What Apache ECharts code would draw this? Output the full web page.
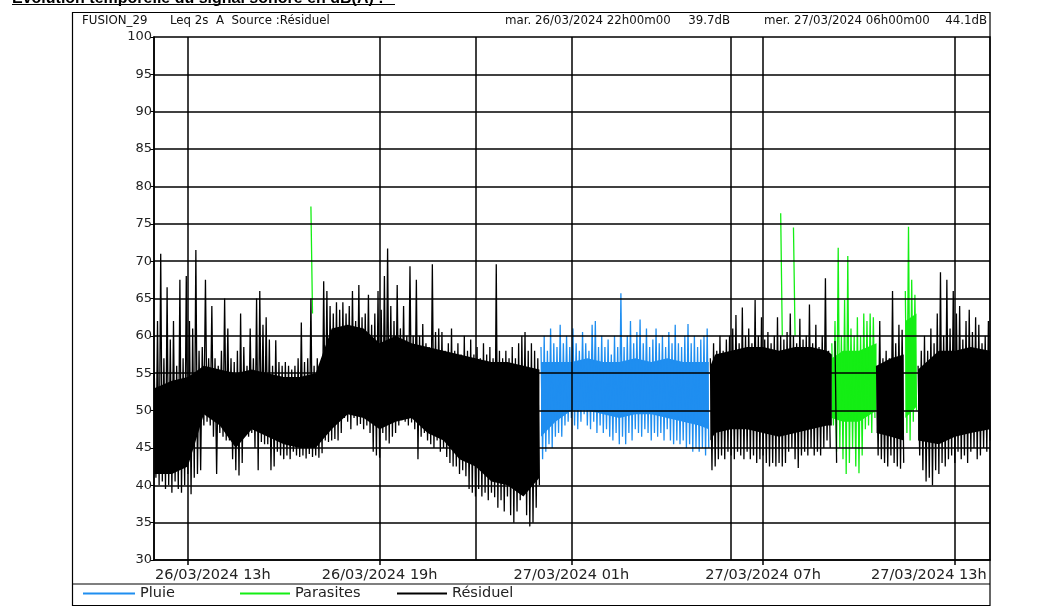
<!DOCTYPE html>
<html>
<head>
<meta charset="utf-8">
<script src="https://cdn.jsdelivr.net/npm/echarts@6/dist/echarts.min.js"></script>
<style>
html, body { margin: 0; padding: 0; background: #fff; }
#chart { width: 1038px; height: 610px; }
</style>
</head>
<body>
<div id="chart"></div>
<script>
// Leq 2s, dB(A). One bin every 6 minutes; x is hours counted from 26/03/2024 00h00.
// Each bin holds the peak (haut) and the trough (bas) of the signal inside it.
const debutHeures = 11.95;
const pasHeures = 0.1;

const axeMin = 11.94;
const axeMax = 38.1;

const ticksHeures = [13, 19, 25, 31, 37];
const ticksLabels = ['26/03/2024 13h', '26/03/2024 19h', '27/03/2024 01h', '27/03/2024 07h', '27/03/2024 13h'];
const reperesHeures = [13, 19, 22, 25, 30, 31, 37];   // vertical rules (ticks + 22h00 / 06h00 period markers)
const niveauxDb = [35, 40, 45, 50, 55, 60, 65, 70, 75, 80, 85, 90, 95];

// Résiduel: bins 0..261 (null where the bin belongs to Pluie or Parasites)
const residuelHaut = [
  55, 62, 71, 57, 66.5, 59.5, 62, 56, 67.5, 57,
  68, 62, 61, 71.5, 58, 58.5, 67.5, 57, 64, 57,
  56, 58, 65, 61, 57, 56.5, 58, 63, 58.5, 56,
  61, 57, 65, 66, 61.5, 62.5, 59.5, 56, 59.4, 56.5,
  56, 56.5, 56, 55.5, 56, 57, 61.8, 56.5, 57, 65,
  56, 57, 56, 67.3, 66, 64, 63, 64.5, 63.5, 64.5,
  63, 64, 66, 62, 66.8, 62.5, 63, 65.5, 61.5, 63,
  66, 63.5, 68, 71.7, 64, 62, 66.8, 61, 64, 60,
  69.3, 60, 67.5, 60, 61.6, 59, 58.5, 69.6, 60.5, 61,
  60.5, 58, 59, 61, 58, 59, 57.5, 60, 58, 59.5,
  57.5, 58.5, 57, 59, 57.5, 58.5, 57, 69.6, 58, 57,
  58, 57, 58.5, 57, 59, 60, 60.5, 58, 59, 58, 57,
  null, null, null, null, null, null, null, null, null, null,
  null, null, null, null, null, null, null, null, null, null,
  null, null, null, null, null, null, null, null, null, null,
  null, null, null, null, null, null, null, null, null, null,
  null, null, null, null, null, null, null, null, null, null,
  null, null, null,
  57, 59, 58, 60, 58, 59.5, 60, 61, 62.8, 59,
  63.8, 60, 61, 59, 64.8, 60, 62.5, 59.5, 60.5, 59,
  60, 62.5, 60, 59.5, 60.5, 63, 60, 59, 62.3, 59.5,
  60, 64.2, 59, 61.5, 58.5, 60, 67.7, 58,
  null, 59.3, null, null, null, null, null, null, null, null, null, null, null, null,
  56, 62, 57, 58, 57, 66, 59, 61.5, 60.8,
  null, null, null, null,
  56, 58, 60, 58, 61, 59, 63, 68.5, 60, 67.5,
  61, 66, 63, 64, 59.5, 62, 63.5, 60.5, 62.5, 61.5,
  59, 60, 62
];
const residuelBas = [
  41, 40, 40.5, 39.5, 40, 39, 40.5, 39.5, 39, 40,
  41.5, 38.8, 41, 41.5, 42, 48, 48.5, 48, 46.5, 41.5,
  47, 46.5, 46, 46, 43.5, 42, 41.3, 43, 47, 46.5,
  47, 45, 42, 45.8, 45.5, 45.5, 42, 42.5, 44.5, 44,
  43.5, 44, 43.5, 44.5, 44, 43.8, 44, 43.6, 44.2, 43.8,
  44, 43.7, 44.3, 46, 45.8, 46, 46.2, 46, 47, 49,
  48.5, 47.5, 49, 48, 48.2, 47.5, 48, 47, 44.5, 44,
  43.7, 47, 46, 45.6, 46.5, 47, 48, 48.7, 48.5, 48,
  48.4, 47.5, 43.5, 46.5, 47, 46, 45.5, 45, 46, 44.5,
  45, 43.8, 43, 42.5, 42.5, 41.5, 42, 41.2, 39.5, 39,
  38.5, 39.5, 38.5, 39, 38, 39, 38.4, 37, 38, 36.5,
  38.5, 36, 35, 36.5, 38, 44, 36, 34.5, 35, 37, 40,
  null, null, null, null, null, null, null, null, null, null,
  null, null, null, null, null, null, null, null, null, null,
  null, null, null, null, null, null, null, null, null, null,
  null, null, null, null, null, null, null, null, null, null,
  null, null, null, null, null, null, null, null, null, null,
  null, null, null,
  42, 42.5, 43.5, 44, 43.5, 44.5, 44, 43.5, 44.5, 44,
  43.5, 44.5, 43.5, 44, 43, 43.5, 44, 43, 42.5, 43,
  42.5, 43, 42.5, 43, 44.5, 45, 43.5, 42.3, 44, 44.5,
  44, 45, 44, 44.5, 44, 45, 46, 45,
  null, 43, null, null, null, null, null, null, null, null, null, null, null, null,
  44, 43.5, 43, 42.5, 44, 43, 42.5, 42.2, 43,
  null, null, null, null,
  44, 42, 40.5, 41, 40, 42, 41.5, 43, 42.5, 43.5,
  44, 43, 44.5, 43.5, 44, 43, 44.5, 45, 43.5, 44,
  45, 44.5, 46
];
// Résiduel: solid core of the signal (every 30 min, null between separate stretches)
const residuelCorpsHeures = [11.95, 12.5, 13, 13.5, 14, 14.5, 15, 15.5, 16, 16.5, 17, 17.5, 18, 18.5, 19, 19.5, 20, 20.5, 21, 21.5, 22, 22.5, 23, 23.5, 24,
  null, 29.35, 29.5, 30, 30.5, 31, 31.5, 32, 32.5, 33, 33.15,
  null, 34.55, 35, 35.4,
  null, 35.85, 36.5, 37, 37.5, 38.1];
const residuelCorpsBas = [41.5, 41.5, 42.5, 49.5, 48, 45, 47.5, 46.5, 45.5, 45, 45, 47.5, 49.5, 49, 47.5, 48.5, 49, 47, 46, 43.5, 42.5, 40.5, 40, 38.5, 41,
  null, 46, 47, 47.5, 47.5, 47, 46.5, 47, 47.5, 48, 48,
  null, 47, 46.5, 46,
  null, 46, 45.5, 46.5, 47, 47.5];
const residuelCorpsHaut = [53, 54, 54.5, 56, 55.5, 55, 55.5, 55, 54.5, 54.5, 55, 61, 61.5, 61, 59, 60, 59, 58.5, 58, 57.5, 57, 56.5, 56.5, 56, 55.5,
  null, 56, 57.5, 58, 58.5, 58.5, 58, 58.5, 58.5, 58, 57.5,
  null, 56, 57, 57.5,
  null, 55.5, 58, 58, 58.5, 58];

// Pluie: bins 121..173
const pluieDebut = 121;
const pluieHaut = [
  58.5, 60, 58, 61, 59, 58.5, 61.5, 59, 60, 58.5,
  61, 59, 58, 60.5, 59, 58, 61.5, 62, 58.5, 60,
  58.5, 59.5, 57.5, 60, 58.5, 65.7, 58.5, 60, 62, 59,
  60.5, 62.2, 59, 61, 58.5, 59.5, 61, 59, 60, 58.5,
  60.5, 59, 61.5, 59, 58.5, 60, 61.6, 59, 60, 58.5,
  59.5, 60, 61
];
const pluieBas = [
  43.5, 44.5, 45.5, 45, 46.5, 47, 46.5, 48, 48.5, 49,
  48, 47.5, 48.5, 49.5, 48, 47.5, 48.5, 47, 48, 47,
  47.5, 46.5, 46, 47, 45.5, 46.5, 45.5, 47, 46, 47.5,
  47, 46.5, 47.5, 47, 46, 47, 46.5, 47, 46, 47.5,
  46, 45.5, 46, 45.5, 46, 45, 45.5, 44.5, 45, 44.5,
  45, 44, 45
];
const pluieCorpsHeures = [24.05, 24.5, 25, 25.5, 26, 26.5, 27, 27.5, 28, 28.5, 29, 29.3];
const pluieCorpsBas = [46.5, 48.5, 50, 50, 49.5, 49, 49.5, 49.5, 49, 48.5, 48, 47.5];
const pluieCorpsHaut = [56.5, 56.5, 56.5, 57, 56.5, 56.5, 57, 56.5, 57, 56.5, 56.5, 56.5];

// Parasites: separate bursts, each with its first bin
const parasitesDebuts = [49, 196, 200, 212, 235];
const parasitesHaut = [
  [77.3],
  [76.4],
  [74.5],
  [59, 62, 71.8, 60, 64.8, 70.7, 61, 60, 62.5, 60, 63, 62, 63, 62.5],
  [66, 74.6, 67.5, 65.5]
];
const parasitesBas = [
  [63],
  [60],
  [60],
  [48, 44.5, 45, 43.5, 41.5, 43, 45, 42.5, 41.6, 44, 47.5, 48, 47, 49],
  [47, 46, 48.5, 50]
];
const parasitesCorpsHeures = [33.15, 33.5, 34, 34.55, null, 35.45, 35.8];
const parasitesCorpsBas = [49, 48.5, 48.5, 50, null, 49, 50.5];
const parasitesCorpsHaut = [57, 58, 58, 59, null, 62, 63];

// peak then trough for every bin, so the line sweeps the full range of each bin
function enDents(haut, bas, debut) {
  const pts = [];
  for (let k = 0; k < haut.length; k++) {
    const t = debutHeures + (debut + k) * pasHeures;
    if (haut[k] == null) { pts.push([t, null]); continue; }
    pts.push([t, haut[k]]);
    pts.push([t + pasHeures / 2, bas[k]]);
  }
  return pts;
}

const residuelData = enDents(residuelHaut, residuelBas, 0);
const pluieData = enDents(pluieHaut, pluieBas, pluieDebut);
let parasitesData = [];
parasitesDebuts.forEach((d, j) => {
  if (j > 0) parasitesData.push([debutHeures + (d - 0.5) * pasHeures, null]);
  parasitesData = parasitesData.concat(enDents(parasitesHaut[j], parasitesBas[j], d));
});

// split a core outline at its nulls
function troncons(heures) {
  const out = []; let cur = [];
  heures.forEach((h, k) => {
    if (h == null) { if (cur.length) out.push(cur); cur = []; } else cur.push(k);
  });
  if (cur.length) out.push(cur);
  return out;
}

// filled core between the lower and upper outlines
function serieCorps(nom, heures, bas, haut, couleur, z) {
  const segs = troncons(heures);
  return {
    name: nom, type: 'custom', coordinateSystem: 'cartesian2d', z: z, silent: true, clip: true,
    data: segs.map(s => [heures[s[0]], bas[s[0]]]),
    renderItem: function (params, api) {
      const s = segs[params.dataIndex];
      const pts = s.map(k => api.coord([heures[k], haut[k]]))
        .concat(s.slice().reverse().map(k => api.coord([heures[k], bas[k]])));
      return { type: 'polygon', shape: { points: pts }, style: { fill: couleur, stroke: null } };
    }
  };
}

const BLEU = '#1f8ef0', VERT = '#14ee14', NOIR = '#000';
const POLICE = 'DejaVu Sans';
const chart = echarts.init(document.getElementById('chart'), null, { renderer: 'canvas' });

const rules = reperesHeures.map(h => ({ xAxis: h })).concat(niveauxDb.map(v => ({ yAxis: v })));

function texte(x, y, s, align) {
  return { type: 'text', silent: true, style: { x: x, y: y, text: s, font: '11.8px "DejaVu Sans"', fill: '#111',
    textAlign: align || 'left', align: align || 'left', textVerticalAlign: 'middle', verticalAlign: 'middle' } };
}

chart.setOption({
  animation: false,
  backgroundColor: '#fff',
  grid: {
    left: 154, right: 48, top: 37, bottom: 50,
    show: true, borderColor: '#000', borderWidth: 1.5, backgroundColor: 'transparent'
  },
  xAxis: {
    type: 'value',
    min: axeMin, max: axeMax,
    axisLine: { show: true, lineStyle: { color: '#000', width: 1.5 } },
    axisTick: { show: true, customValues: ticksHeures, length: 5, lineStyle: { color: '#000', width: 1.5 } },
    splitLine: { show: false },
    axisLabel: {
      show: true,
      customValues: ticksHeures,
      margin: 8,
      color: '#222',
      fontFamily: POLICE,
      fontSize: 14.5,
      formatter: function (v) {
        const k = ticksHeures.indexOf(Math.round(v));
        const s = k >= 0 ? ticksLabels[k] : '';
        if (k === 0) return '{d|' + s + '}';
        if (k === ticksHeures.length - 1) return '{g|' + s + '}';
        return s;
      },
      rich: {
        d: { padding: [0, 0, 0, 50], fontFamily: POLICE, fontSize: 14.5, color: '#222' },
        g: { padding: [0, 52, 0, 0], fontFamily: POLICE, fontSize: 14.5, color: '#222' }
      }
    }
  },
  yAxis: {
    type: 'value',
    min: 30, max: 100, interval: 5,
    axisLine: { show: true, lineStyle: { color: '#000', width: 1.5 } },
    axisTick: { show: true, length: 4, lineStyle: { color: '#000', width: 1 } },
    splitLine: { show: false },
    axisLabel: { margin: 2, color: '#222', fontFamily: POLICE, fontSize: 13 }
  },
  legend: [
    { data: ['Pluie'], left: 83, top: 586, padding: 0, icon: 'rect', itemWidth: 52, itemHeight: 2,
      textStyle: { fontFamily: POLICE, fontSize: 14.5, color: '#222' } },
    { data: ['Parasites'], left: 240, top: 586, padding: 0, icon: 'rect', itemWidth: 50, itemHeight: 2,
      textStyle: { fontFamily: POLICE, fontSize: 14.5, color: '#222' } },
    { data: ['Résiduel'], left: 397, top: 586, padding: 0, icon: 'rect', itemWidth: 50, itemHeight: 2,
      textStyle: { fontFamily: POLICE, fontSize: 14.5, color: '#222' } }
  ],
  series: [
    {
      name: 'Pluie', type: 'line', data: pluieData, color: BLEU,
      showSymbol: false, symbol: 'none', lineStyle: { width: 1.3, color: BLEU }, z: 2
    },
    {
      name: 'Parasites', type: 'line', data: parasitesData, color: VERT,
      showSymbol: false, symbol: 'none', lineStyle: { width: 1.3, color: VERT }, z: 2
    },
    {
      name: 'Résiduel', type: 'line', data: residuelData, color: NOIR,
      showSymbol: false, symbol: 'none', lineStyle: { width: 1.3, color: NOIR }, z: 3,
      markLine: {
        silent: true, symbol: ['none', 'none'], label: { show: false },
        lineStyle: { color: '#000', width: 1.5, type: 'solid' },
        emphasis: { disabled: true },
        data: rules
      }
    },
    serieCorps('Pluie', pluieCorpsHeures, pluieCorpsBas, pluieCorpsHaut, BLEU, 2),
    serieCorps('Parasites', parasitesCorpsHeures, parasitesCorpsBas, parasitesCorpsHaut, VERT, 2),
    serieCorps('Résiduel', residuelCorpsHeures, residuelCorpsBas, residuelCorpsHaut, NOIR, 3)
  ],
  graphic: [
    { type: 'rect', silent: true, shape: { x: 72.5, y: 12.5, width: 917.5, height: 593 },
      style: { fill: 'none', stroke: '#000', lineWidth: 1.2 } },
    { type: 'line', silent: true, shape: { x1: 72, y1: 584, x2: 990, y2: 584 },
      style: { stroke: '#000', lineWidth: 1.2 } },
    { type: 'text', silent: true, style: { x: 12, y: 7, text: 'Evolution temporelle du signal sonore en dB(A) :',
      font: 'bold 16px "Liberation Sans"', fill: '#000', textAlign: 'left', textVerticalAlign: 'bottom', align: 'left', verticalAlign: 'bottom' } },
    { type: 'line', silent: true, shape: { x1: 12, y1: 4.5, x2: 395, y2: 4.5 }, style: { stroke: '#000', lineWidth: 1.2 } },
    texte(82, 21, 'FUSION_29'),
    texte(170, 21, 'Leq 2s  A  Source :Résiduel'),
    texte(505, 21, 'mar. 26/03/2024 22h00m00'),
    texte(730, 21, '39.7dB', 'right'),
    texte(764, 21, 'mer. 27/03/2024 06h00m00'),
    texte(987, 21, '44.1dB', 'right')
  ]
});
</script>
</body>
</html>
